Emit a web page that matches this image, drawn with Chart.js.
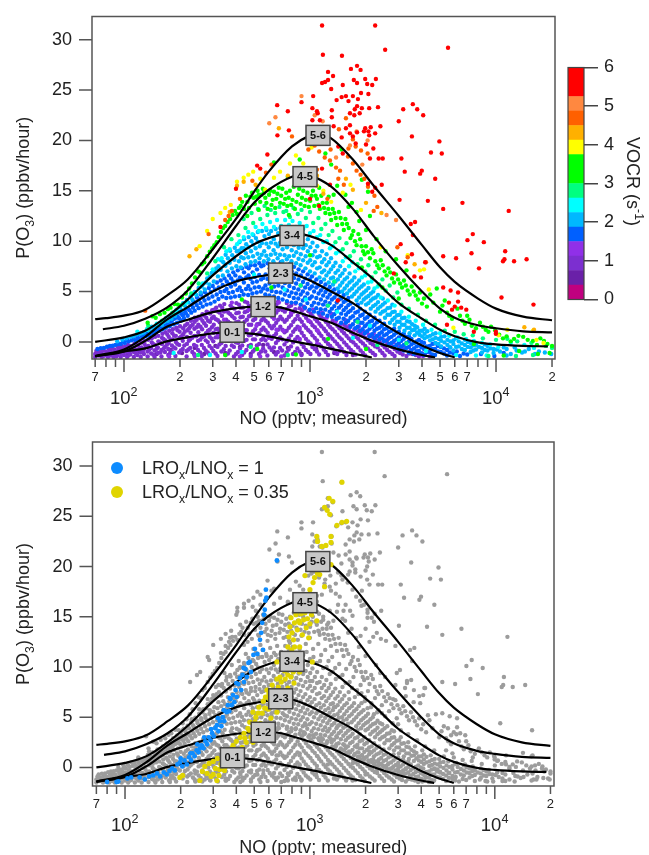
<!DOCTYPE html>
<html>
<head>
<meta charset="utf-8">
<title>P(O3) vs NO</title>
<script src="https://cdn.jsdelivr.net/npm/chart.js@4"></script>
<style>
html, body { margin: 0; background: #fff; overflow: hidden; }
canvas { position: absolute; }
</style>
</head>
<body>
<canvas id="topChart" width="649" height="430" style="left:0;top:0"></canvas>
<canvas id="barChart" width="89" height="270" style="left:560px;top:50px"></canvas>
<canvas id="bottomChart" width="649" height="429" style="left:0;top:430px"></canvas>
<script>
// measured points [NO pptv, P(O3) ppbv/hour], grouped by VOCR colour
const vocrDeep = [[74,-1.3],[88,-1.2],[105,-1.35],[122,-1],[150,-1.2],[178,-.8],[205,-1.1],[240,-.6],[270,-1.2],[310,-.4],[350,-1.1],[420,-.5],[480,-1.2],[560,-.3],[640,-1],[760,-.6],[900,-1.2],[1080,-.7],[1350,-1.1],[1700,-1.3]];
const vocrPurple = [[70,-1.5],[70,-1.2],[71,-.9],[73,-1.35],[74,-1],[76,-1.5],[76,-1.1],[77,-.8],[79,-1.3],[80,-.95],[82,-1.5],[82,-1.15],[83,-.7],[85,-1.35],[85,-.9],[86,-.6],[88,-1.5],[89,-1.1],[89,-.75],[92,-1.3],[92,-.95],[93,-.55],[96,-1.5],[96,-1.1],[97,-.7],[97,-.4],[100,-1.3],[100,-.85],[101,-.5],[104,-1.5],[104,-1.05],[105,-.65],[105,-.3],[108,-1.25],[109,-.85],[109,-.4],[113,-1.5],[113,-1],[114,-.6],[114,-.15],[118,-1.3],[118,-.8],[119,-.3],[123,-1.5],[123,-1.05],[124,-.55],[124,-.05],[128,-1.2],[128,-.7],[129,-.2],[129,.1],[134,-1.45],[134,-.95],[135,-.4],[135,.2],[140,-1.15],[140,-.6],[141,-.05],[141,.35],[146,-1.5],[146,-.85],[147,-.3],[147,.5],[152,-1.1],[152,-.55],[153,.05],[153,.6],[159,-1.45],[159,-.8],[160,-.2],[160,.4],[161,.8],[166,-1],[166,-.5],[167,.15],[167,.95],[173,-1.3],[173,-.7],[174,-.1],[174,.5],[175,1.1],[181,-.95],[181,-.35],[182,.25],[182,.85],[183,1.25],[189,-1.4],[189,-.65],[190,0],[190,.6],[191,1.4],[198,-1.05],[198,-.3],[199,.4],[199,1],[200,1.55],[207,-.7],[207,.1],[208,.75],[208,1.35],[217,-1.45],[217,-.9],[218,-.2],[218,.5],[219,1.15],[219,1.8],[227,-.6],[227,.25],[228,.9],[228,1.55],[229,2.1],[238,-1.2],[238,-.3],[239,.6],[239,1.3],[240,2],[240,2.4],[250,-.8],[250,.1],[251,.95],[251,1.7],[252,2.5],[262,-1.4],[262,-.3],[263,.45],[263,1.25],[264,2.1],[264,2.75],[275,-.85],[275,.15],[276,.85],[276,1.6],[277,2.4],[278,3],[288,-1.25],[288,-.4],[289,.5],[289,1.2],[290,2],[291,2.8],[302,-.9],[302,.05],[303,.9],[304,1.7],[304,2.5],[305,3.2],[318,-1.4],[318,-.5],[319,.45],[319,1.3],[320,2.15],[321,3],[334,-.95],[334,-.1],[335,.8],[336,1.7],[336,2.6],[337,3.4],[352,-1.3],[352,-.4],[353,.4],[354,1.25],[354,2.2],[355,3.1],[370,-.85],[371,.1],[372,.95],[372,1.85],[373,2.75],[374,3.6],[390,-1.45],[390,-.5],[391,.5],[392,1.5],[393,2.35],[393,3.3],[410,-1],[411,-.1],[412,1.05],[413,2],[414,2.9],[415,3.7],[432,-1.3],[432,-.35],[433,.6],[434,1.6],[435,2.5],[436,3.4],[455,-.8],[456,.2],[457,1.15],[458,2.2],[459,3.05],[460,3.9],[480,-1.4],[481,-.3],[482,.7],[483,1.7],[484,2.7],[485,3.55],[505,-.75],[506,.25],[507,1.25],[508,2.3],[509,3.25],[510,4],[532,-1.2],[533,-.2],[534,.85],[535,1.8],[536,2.8],[537,3.7],[560,-.65],[561,.4],[562,1.4],[563,2.35],[564,3.3],[590,-1.35],[591,-.25],[592,.9],[593,1.9],[594,2.9],[595,3.8],[622,-.8],[623,.3],[624,1.35],[625,2.5],[626,3.4],[655,-1.25],[656,-.1],[657,.8],[658,1.9],[659,2.9],[660,3.7],[690,-.6],[691,.45],[692,1.5],[693,2.5],[694,3.35],[728,-1.35],[729,-.25],[730,.95],[731,2],[732,3],[768,-.75],[769,.35],[770,1.4],[771,2.5],[772,3.5],[810,-1.2],[811,-.05],[812,1],[813,2],[814,3],[855,-.65],[856,.5],[857,1.5],[858,2.6],[900,-1.3],[901,-.2],[902,.9],[903,2],[904,3.1],[950,-.8],[951,.3],[952,1.4],[953,2.4],[1005,-1.2],[1006,-.15],[1007,.95],[1008,1.95],[1009,2.8],[1060,-.7],[1061,.4],[1062,1.45],[1063,2.3],[1120,-1.25],[1121,-.25],[1122,.85],[1123,1.8],[1124,2.7],[1185,-.75],[1186,.3],[1187,1.3],[1188,2.25],[1250,-1.3],[1251,-.2],[1252,.75],[1253,1.7],[1320,-.65],[1321,.3],[1322,1.25],[1323,2.1],[1400,-1.2],[1401,-.2],[1402,.7],[1403,1.6],[1480,-.7],[1481,.25],[1482,1.1],[1570,-1.3],[1571,-.3],[1572,.6],[1573,1.45],[1660,-.8],[1661,.1],[1662,.95],[1760,-1.25],[1761,-.3],[1762,.5],[1870,-.85],[1871,.05],[1872,.8],[1980,-1.35],[1981,-.4],[1982,.4],[2110,-.9],[2111,-.1],[2240,-1.3],[2241,-.45],[2242,.25],[2380,-.85],[2381,-.1],[2520,-1.35],[2521,-.55],[2680,-1],[2681,-.3],[2850,-1.4],[2851,-.7],[3050,-1.1],[3300,-1.4],[3550,-1.2],[3850,-1.45],[4150,-1.3]];
const vocrPurple2 = [[72,-1.15],[78,-1.38],[84,-1.02],[91,-1.42],[94,-.82],[99,-1.05],[102,-.62],[107,-1.1],[111,-.72],[116,-1.12],[121,-.62],[126,-.92],[131,-.45],[137,-.75],[144,-1.28],[143,-.18],[150,-.68],[156,-.05],[157,-1.05],[163,.28],[164,-.62],[170,-.28],[171,.72],[177,-1.1],[178,.22],[185,-.55],[186,.62],[193,-.18],[194,1.15],[202,-.85],[203,.55],[211,-.35],[212,1],[213,1.62],[222,-.75],[223,.1],[224,1.35],[233,-1],[233,.42],[234,1.7],[245,-.42],[245,.55],[246,1.45],[246,2.2],[257,-1.05],[257,.22],[258,1.5],[258,2.35],[269,-.6],[269,.55],[270,1.85],[270,2.62],[282,-1.05],[282,-.02],[283,1.1],[283,2.1],[284,2.9],[296,-.62],[296,.32],[297,1.45],[297,2.35],[298,3.15],[311,-1.15],[311,.45],[312,1.25],[312,2.25],[313,3.4],[326,-.25],[326,1],[327,1.95],[327,2.9],[328,3.6],[344,-.72],[344,.38],[345,1.45],[345,3],[346,3.75],[362,-1.15],[362,.15],[363,1.05],[363,2],[364,2.9],[380,-.35],[381,.65],[381,1.6],[382,2.55],[382,3.4],[400,-1.2],[400,-.05],[401,.95],[401,1.95],[402,2.85],[402,3.85],[421,-.65],[422,.42],[422,1.35],[423,2.45],[423,3.4],[443,-1.05],[444,.1],[445,1.15],[445,2],[446,2.95],[446,4],[468,-.4],[469,.65],[469,1.7],[470,2.55],[470,3.6],[493,-.95],[494,.25],[494,1.05],[495,2.15],[495,3],[496,3.95],[518,-.35],[519,.72],[520,1.75],[520,2.75],[521,3.65],[546,-.95],[547,.2],[548,1.2],[548,2.15],[549,3.05],[549,4.15],[575,-.95],[576,.15],[577,1.15],[577,2.1],[578,3.05],[578,4],[606,-.55],[607,.55],[607,1.6],[608,2.7],[608,3.6],[640,-.55],[640,.6],[641,1.6],[641,2.6],[642,3.3],[672,-1],[673,.15],[673,1.2],[674,2.2],[674,3.15],[674,4],[708,-.85],[709,.25],[710,1.2],[710,2.25],[711,3.15],[748,-1.05],[749,.05],[749,1.1],[750,2.2],[750,3.25],[750,3.85],[790,-.45],[790,.65],[791,1.65],[791,2.7],[792,3.6],[832,-1],[833,.25],[833,1.25],[834,2.25],[834,3.25],[878,-.95],[879,.2],[879,1.2],[880,2.25],[880,3.35],[925,-.5],[926,.6],[926,1.65],[927,2.7],[927,3.5],[978,-1],[979,.05],[980,1.15],[980,2.1],[981,3.05],[1030,-.5],[1031,.65],[1032,1.65],[1032,2.55],[1090,-.95],[1091,.15],[1091,1.15],[1092,2.05],[1150,-.45],[1151,.6],[1151,1.55],[1152,2.45],[1215,-1],[1216,.05],[1216,1.05],[1217,2.0],[1285,-.4],[1286,.55],[1286,1.45],[1360,-.95],[1361,.05],[1361,1],[1361,1.85],[1440,-.45],[1441,.45],[1441,1.35],[1525,-1],[1526,-.05],[1526,.85],[1527,1.7],[1615,-.55],[1616,.35],[1616,1.2],[1710,-1],[1711,-.05],[1711,.75],[1815,-.55],[1816,.3],[1816,1.05],[1925,-1.1],[1926,-.15],[1926,.6],[2045,-.65],[2046,.15],[2175,-1.1],[2176,-.25],[2176,.5],[2310,-.55],[2310,.1],[2450,-1.1],[2450,-.3],[2600,-.8],[2600,-.1],[2770,-1.2],[2770,-.5],[2950,-.95],[3150,-1.25],[3150,-.6],[3420,-1.15],[3700,-1.3],[4000,-1.15],[4500,-1.4]];
const vocrViolet = [[310,3.1],[345,2.2],[380,3.9],[425,.9],[470,3.2],[515,1.6],[550,3.9],[600,.4],[640,2.3],[680,3.9],[720,1.1],[790,2.9],[835,3.8],[880,1.4],[930,3.3],[985,2.1],[1040,3.2],[1100,1.1],[1160,2.9],[1230,2.4],[1300,2.8],[1380,2.1],[1450,1.7],[1540,2.2],[1630,1.6],[1730,1.2],[1830,1.5],[1950,1],[2070,.7],[2200,.8],[2340,.55],[2480,.2],[2640,.3],[2800,-.05],[3000,-.35],[3200,-.75],[3480,-.8],[3750,-.95],[4050,-1.4],[4400,-1.45],[1090,-.2],[1440,-.9],[880,.3],[660,1.2],[240,-1.4],[320,.7],[175,-1.45],[420,-1.45],[540,-1.45],[700,-1.45]];
const vocrBlue = [[72,-.7],[78,-.6],[84,-.4],[90,-.3],[96,-.2],[101,-.1],[106,.05],[110,.15],[116,.1],[120,.3],[126,.45],[131,.55],[137,.65],[143,.85],[149,1],[155,1.1],[161,1.25],[168,1.4],[170,1.75],[176,1.55],[178,2],[185,1.75],[186,2.3],[193,1.9],[194,2.55],[202,2.1],[203,2.8],[210,2.35],[212,3.05],[220,2.6],[221,3.3],[230,2.9],[231,3.65],[240,3.1],[242,3.9],[252,3.35],[253,4.2],[265,3.5],[266,4.4],[278,3.7],[279,4.7],[292,3.8],[293,4.95],[307,4],[308,5.2],[322,4.25],[323,5.4],[338,4.5],[339,5.65],[355,4.35],[356,5.25],[357,6],[375,4.4],[376,5.5],[377,6.3],[395,4.5],[396,5.7],[397,6.6],[418,4.55],[419,5.4],[420,6.4],[440,4.7],[441,5.9],[442,6.9],[465,4.65],[466,5.55],[467,6.6],[468,7.3],[490,4.8],[491,5.9],[492,6.9],[517,4.9],[518,6],[519,7.2],[545,5],[546,6.2],[547,7.5],[575,4.7],[576,5.6],[577,6.7],[605,4.6],[606,5.8],[607,7.3],[640,4.5],[641,5.5],[642,6.5],[643,7.7],[675,4.35],[676,5.6],[677,6.8],[712,4.2],[713,5.4],[714,6.5],[715,7.6],[752,4.05],[753,5.1],[754,6.2],[755,7.1],[795,3.9],[796,4.9],[797,6],[798,7],[840,3.9],[841,4.8],[842,5.8],[843,6.8],[890,3.7],[891,4.7],[892,5.6],[893,6.6],[940,3.4],[941,4.4],[942,5.4],[943,6.3],[995,3.2],[996,4.3],[997,5.3],[998,6.2],[1050,3],[1051,3.9],[1052,5],[1053,5.9],[1110,2.9],[1111,3.8],[1112,4.8],[1113,5.6],[1175,2.8],[1176,3.7],[1177,4.6],[1178,5.4],[1240,2.6],[1241,3.6],[1242,4.4],[1243,5.2],[1310,2.5],[1311,3.3],[1312,4.2],[1313,5],[1390,2.3],[1391,3.1],[1392,3.9],[1393,4.7],[1470,1.9],[1471,2.8],[1472,3.6],[1473,4.3],[1560,1.9],[1561,2.7],[1562,3.4],[1563,4.1],[1650,1.5],[1651,2.4],[1652,3.1],[1653,3.8],[1750,1.35],[1751,2.1],[1752,2.9],[1860,1.1],[1861,1.9],[1862,2.6],[1863,3.3],[1970,.85],[1971,1.55],[1972,2.3],[1973,3],[2090,.55],[2091,1.3],[2092,2],[2093,2.7],[2220,.4],[2221,1.1],[2222,1.7],[2223,2.4],[2360,.25],[2361,.8],[2362,1.4],[2363,2.1],[2500,.05],[2501,.65],[2502,1.25],[2503,1.8],[2660,-.2],[2661,.4],[2662,1],[2830,-.5],[2831,.1],[2832,.7],[2833,1.3],[3000,-.7],[3001,-.1],[3002,.45],[3003,1],[3190,-.85],[3191,-.3],[3192,.3],[3193,.8],[3400,-1.05],[3401,-.5],[3402,.05],[3403,.55],[3620,-1.2],[3621,-.65],[3622,-.1],[3850,-.9],[3851,-.35],[3852,.2],[4100,-1.3],[4101,-.7],[4102,-.1],[4400,-1],[4401,-.4],[4700,-1.3],[4701,-.7],[4702,-.15],[5050,-1],[5051,-.5],[5450,-1.35],[5451,-.8],[5900,-1.15],[6400,-1.4],[7000,-1.25],[9800,-1.4],[11000,-1.1],[8300,-1.2]];
const vocrBlue2 = [[75,-.62],[81,-.48],[87,-.38],[93,-.22],[99,.02],[104,.18],[113,.28],[118,.48],[124,.62],[129,.75],[134,.9],[140,1.02],[146,1.18],[152,1.32],[158,1.5],[164,1.6],[172,1.9],[181,2.12],[190,2.4],[198,2.35],[199,2.95],[207,2.65],[215,2.85],[216,3.35],[225,3.15],[235,3.4],[236,4],[246,3.65],[247,4.4],[258,3.85],[259,4.7],[271,4.1],[272,4.95],[285,4.3],[286,5.35],[299,4.5],[300,5.55],[315,4.7],[316,5.9],[330,4.95],[331,6.1],[347,5.05],[347,6.3],[365,4.85],[366,5.75],[367,6.6],[385,4.95],[386,6],[387,6.9],[407,5.15],[408,6.1],[409,7.1],[429,5.05],[430,6.25],[431,7.3],[453,5.25],[454,6.4],[455,7.45],[478,5.2],[479,6.25],[480,7.6],[504,5.4],[505,6.45],[506,7.6],[532,5.45],[533,6.65],[534,7.8],[560,5.3],[561,6.35],[562,7.6],[590,5.2],[591,6.25],[592,7.8],[622,5.05],[623,6.1],[624,7.1],[658,4.95],[659,6],[660,7.2],[694,4.9],[695,6.1],[696,7.9],[732,4.7],[733,5.85],[734,7.05],[774,4.55],[775,5.55],[776,6.65],[777,7.7],[818,4.35],[819,5.35],[820,6.35],[821,7.45],[865,4.3],[866,5.2],[867,6.2],[868,7.2],[915,4.1],[916,5],[917,5.95],[918,7],[968,3.85],[969,4.8],[970,5.75],[971,6.7],[1022,3.6],[1023,4.5],[1024,5.5],[1025,6.5],[1080,3.35],[1081,4.35],[1082,5.4],[1083,6.2],[1142,3.25],[1143,4.2],[1144,5.1],[1145,5.95],[1208,3.2],[1209,4],[1210,4.95],[1211,5.7],[1275,3],[1276,3.85],[1277,4.7],[1278,5.45],[1350,2.75],[1351,3.55],[1352,4.4],[1353,5.2],[1430,2.4],[1431,3.4],[1432,4.2],[1433,4.95],[1515,2.3],[1516,3.15],[1517,3.95],[1518,4.65],[1605,2.1],[1606,2.95],[1607,3.65],[1608,4.35],[1700,1.75],[1701,2.55],[1702,3.35],[1805,1.5],[1806,2.25],[1807,3],[1808,3.7],[1915,1.25],[1916,1.9],[1917,2.7],[2030,1.05],[2031,1.75],[2032,2.45],[2155,.75],[2156,1.5],[2157,2.1],[2290,.6],[2291,1.3],[2292,1.95],[2430,.35],[2431,.95],[2432,1.6],[2580,.15],[2581,.75],[2582,1.35],[2745,-.1],[2746,.5],[2747,1.1],[2915,-.3],[2916,.25],[2917,.9],[3095,-.45],[3096,.1],[3097,.7],[3295,-.6],[3296,-.1],[3297,.5],[3510,-.85],[3511,-.25],[3512,.3],[3735,-.95],[3736,-.45],[3737,.05],[3975,-1.15],[3976,-.55],[3977,0],[4250,-1],[4251,-.45],[4550,-1.25],[4551,-.7],[4552,-.2],[4870,-.95],[4871,-.4],[5250,-1.15],[5251,-.65],[5650,-1.05],[5651,-.55],[6150,-.95],[6700,-1.15]];
const vocrSky = [[92,.05],[103,.35],[112,.55],[122,.8],[128,.95],[138,1.05],[145,1.35],[152,1.6],[160,1.7],[165,2],[172,2.1],[180,2.3],[188,2.6],[195,2.9],[204,3.15],[212,3.6],[222,3.9],[233,4.2],[245,4.65],[258,4.9],[262,5.5],[272,5.2],[275,5.9],[288,5.7],[290,6.5],[304,6],[306,7],[320,6.5],[322,7.5],[340,6.6],[342,7.9],[360,7],[362,8.3],[380,7.3],[382,8.6],[402,7.5],[404,9],[425,7.4],[427,8.4],[429,9.3],[450,7.7],[452,8.8],[454,9.7],[480,7.9],[482,9],[484,10],[508,8],[510,9.3],[512,10.3],[535,8.3],[537,9.5],[565,8],[567,9],[569,10.5],[598,8.2],[600,9.4],[602,10.7],[635,8],[637,9.1],[639,10.2],[670,8.3],[672,9.5],[674,10.8],[710,8],[712,9.2],[714,10.5],[750,8.2],[752,9.4],[754,10.9],[795,8],[797,9.1],[799,10.4],[842,7.8],[844,8.9],[846,10.1],[890,7.6],[892,8.7],[894,9.9],[945,7.3],[947,8.5],[949,9.6],[1000,7],[1002,8.1],[1004,9.4],[1060,6.8],[1062,7.9],[1064,9],[1125,6.4],[1127,7.4],[1129,8.5],[1190,6.2],[1192,7.1],[1194,8.2],[1260,5.9],[1262,6.9],[1264,7.9],[1330,5.7],[1332,6.4],[1334,7.5],[1410,5.3],[1412,6.2],[1414,7.1],[1490,5],[1492,5.9],[1494,6.8],[1580,4.8],[1582,5.6],[1584,6.4],[1680,4.5],[1682,5.3],[1684,6.1],[1780,4.1],[1782,5],[1784,5.8],[1890,3.9],[1892,4.7],[1894,5.5],[2000,3.7],[2002,4.4],[2004,5.1],[2120,3.3],[2122,4.1],[2124,4.8],[2250,3],[2252,3.7],[2254,4.4],[2390,2.8],[2392,3.5],[2530,2.4],[2532,3.1],[2534,3.9],[2690,1.9],[2692,2.7],[2694,3.4],[2850,1.7],[2852,2.4],[2854,3],[3030,1.4],[3032,2],[3034,2.7],[3220,1.1],[3222,1.7],[3224,2.4],[3430,.85],[3432,1.4],[3434,2],[3650,.65],[3652,1.2],[3654,1.6],[3880,.7],[3882,1.1],[4130,.35],[4132,.8],[4134,1.3],[4420,.15],[4422,.6],[4730,-.1],[4732,.4],[4734,.85],[5070,-.45],[5072,.1],[5074,.5],[5480,-.3],[5482,.2],[5900,-.85],[5902,-.2],[5904,.15],[6300,-.45],[6302,.05],[6800,-.8],[6802,-.3],[6804,.2],[7300,-1],[7302,-.55],[7304,-.1],[7800,-.75],[7802,-.3],[8400,-1.05],[8402,-.6],[9000,-.85],[9002,-.4],[9700,-1.1],[9702,-.7],[10500,-.95],[11400,-1.35],[11402,-.7],[12600,-.55],[13800,-1.05],[15000,-.7],[17000,-.95],[19800,-1.2]];
const vocrSky2 = [[98,.22],[108,.5],[117,.72],[125,.88],[133,1.25],[141,1.5],[149,1.45],[156,1.85],[168,2.35],[176,2.55],[184,2.85],[192,3.2],[200,3.45],[208,3.85],[218,4.15],[228,4.5],[240,4.95],[252,5.35],[266,5.75],[280,6.3],[296,6.85],[313,7.3],[331,7.15],[333,8.1],[351,7.55],[352,8.65],[370,7.85],[372,9.05],[392,8.15],[394,9.35],[415,8],[416,9.05],[417,9.9],[440,8.3],[441,9.3],[442,10.2],[466,8.4],[467,9.4],[468,10.4],[494,8.5],[495,9.65],[496,10.6],[522,8.75],[523,9.95],[524,10.9],[550,8.65],[551,9.8],[552,11],[582,8.55],[583,9.75],[584,11.1],[616,8.65],[617,9.85],[618,11],[652,8.75],[653,9.75],[654,11.2],[690,8.65],[691,9.85],[692,11.3],[730,8.6],[731,9.75],[732,11.2],[772,8.5],[773,9.75],[774,11.25],[818,8.55],[819,9.6],[820,10.85],[868,8.25],[869,9.35],[870,10.55],[918,8.1],[919,9.3],[920,10.6],[972,7.85],[973,9],[974,10.2],[1030,7.6],[1031,8.6],[1032,9.85],[1092,7.3],[1093,8.4],[1094,9.5],[1158,6.9],[1159,7.9],[1160,9],[1225,6.6],[1226,7.6],[1227,8.7],[1295,6.3],[1296,7.2],[1297,8.3],[1370,6],[1371,6.85],[1372,7.85],[1450,5.6],[1451,6.55],[1452,7.5],[1535,5.3],[1536,6.2],[1537,7.15],[1630,5.1],[1631,5.9],[1632,6.8],[1730,4.75],[1731,5.6],[1732,6.4],[1835,4.4],[1836,5.3],[1837,6.1],[1945,4.2],[1946,4.9],[1947,5.7],[2060,3.85],[2061,4.55],[2062,5.35],[2185,3.55],[2186,4.3],[2187,5],[2320,3.3],[2321,3.95],[2322,4.65],[2460,3],[2461,3.7],[2462,4.3],[2610,2.7],[2611,3.35],[2770,2.2],[2771,2.95],[2772,3.7],[2940,2],[2941,2.65],[3125,1.7],[3126,2.35],[3325,1.4],[3326,2.05],[3540,1.15],[3541,1.75],[3765,.9],[3766,1.45],[4000,.55],[4001,1.1],[4270,.5],[4271,1.05],[4575,.25],[4576,.75],[4900,-.2],[4901,.3],[5280,-.05],[5281,.55],[5680,-.55],[5681,.05],[6100,-.5],[6101,.35],[6550,-.7],[6551,-.15],[7050,-.5],[7051,0],[7550,-.85],[7551,-.35],[8100,-.5],[8700,-.8],[8701,-.25],[9350,-.65],[10100,-.75],[11000,-.55],[12000,-1.2],[12900,-.85],[14300,-.95],[16200,-1.2],[18300,-1.05]];
const vocrCyan = [[118,1],[133,1.2],[150,1.8],[170,2.4],[190,3.1],[216,3.9],[238,4.8],[265,5.8],[300,7.2],[335,8.3],[370,9.2],[405,9.7],[440,10.4],[490,10.7],[530,11],[580,11.3],[640,11.4],[700,11.5],[770,11.6],[840,11.4],[920,11.2],[1000,10.8],[1090,10.4],[1180,9.9],[1280,9.3],[1380,8.8],[1500,8],[1620,7.5],[1750,7],[1900,6.4],[2050,5.9],[2220,5.3],[2400,4.4],[2620,4.1],[2850,3.6],[3100,3],[3400,2.5],[3700,2.1],[4050,1.7],[4500,1.2],[5000,.85],[5600,.6],[6200,.45],[6900,.3],[7600,.1],[8400,-.1],[9300,-.25],[10300,-.5],[12000,-.1],[14200,-.3],[16000,-.6],[950,4.2],[1400,3],[2100,1.6],[730,5.2],[500,6.7],[3000,.2],[1700,.4],[4200,-.9],[6100,-1.3],[7800,-1.35],[8900,-1.35],[430,-1],[290,-1.3],[185,-1.1],[320,8.2],[355,9],[420,10],[465,10.9],[510,11.4],[555,11.7],[610,11.9],[665,12.1],[735,12.1],[805,12],[880,11.8],[960,11.5],[1045,11],[1135,10.6],[1230,10],[1330,9.5],[1440,9],[1560,8.4],[1690,7.9],[1830,7.3],[1980,6.6],[2140,6],[2310,5.5]];
const vocrSpring = [[135,1.6],[160,2.1],[182,2.9],[205,3.7],[230,4.8],[252,5.8],[280,6.8],[310,8],[345,9.4],[378,10.2],[412,10.6],[450,11.3],[495,11.8],[540,12.2],[590,12.6],[650,12.8],[720,12.9],[780,12.4],[860,12.7],[950,12.3],[1040,11.8],[1150,11.2],[1260,10.6],[1370,9.9],[1500,9.2],[1640,8.5],[1800,7.7],[1980,7],[2150,6.4],[2350,5.7],[2550,5.1],[2800,4.4],[3100,3.7],[3400,3.3],[3800,2.7],[4200,2.1],[4700,1.7],[5300,1.1],[6000,1],[6700,.75],[7500,.65],[8500,.35],[10000,.2],[11500,.3],[13000,.05],[15500,-.1],[18500,-.4],[20000,-.6],[620,2.9],[1250,3.6],[2300,-.3],[360,.7],[250,-1.3],[480,-.5],[760,-1.3],[3300,-.15],[1800,2],[890,5.6],[1350,6],[9100,-1.4],[12800,-1.4],[15800,-1.3],[440,12.2],[485,12.8],[525,13.2],[570,13.5],[615,13.1],[685,13.4],[745,13],[815,13.3],[900,13.1],[1000,12.9],[1110,12.3],[1210,11.7],[1320,11],[1440,10.3],[1570,9.8],[1720,9],[1880,8.2],[2060,7.6],[2250,6.9],[2450,6.2],[2680,5.6],[2950,4.9]];
const vocrGreen = [[134,1.9],[148,2.4],[165,2.9],[178,3.4],[195,3.7],[215,4.8],[232,5.8],[250,7],[262,7.7],[280,8.5],[298,9.3],[315,9.9],[332,10.9],[350,11.5],[372,12.2],[395,13],[415,13.3],[432,13.9],[452,14.5],[470,13.3],[488,14.8],[505,13.7],[522,15],[540,13.9],[558,15.2],[575,14.3],[592,13.2],[612,15],[630,14.1],[650,13.3],[668,14.7],[690,13.8],[710,15.2],[735,14.2],[755,13.5],[780,15],[805,14.1],[830,13.2],[860,14.6],[890,13.7],[920,15],[950,14.1],[985,13.4],[1020,14.5],[1055,13.5],[1090,14.2],[1130,13.2],[1170,13.8],[1210,12.8],[1255,13.2],[1300,12.1],[1350,12.8],[1400,11.6],[1460,12.3],[1520,11.1],[1580,11.7],[1650,10.3],[1710,11],[1780,9.6],[1860,10.2],[1930,9],[2000,9.5],[2100,8.3],[2190,8.8],[2300,7.6],[2400,8.1],[2520,7],[2640,7.3],[2760,6.3],[2900,6.7],[3050,5.8],[3200,6.1],[3350,5.1],[3520,5.5],[3700,4.6],[3900,4.9],[4100,4.3],[4430,4.7],[4800,5.3],[5300,4.1],[5000,3],[5600,2.6],[6200,3.3],[6600,2.1],[7000,2.6],[7400,1.6],[8200,1.9],[8800,1.2],[9400,1.5],[10400,.7],[11400,.55],[12500,.3],[14000,.5],[15800,.1],[17300,.35],[18900,-.2],[20000,-.4],[19400,-1.1],[16800,-1.2],[13300,-.9],[11000,-1.35],[7600,-.2],[1900,7.4],[2450,5.4],[3000,4.3],[1050,16],[1210,18.7],[1300,17.6],[880,18.1],[1400,15.5],[1550,14.6],[1680,13.8],[1780,12.9],[2100,12.5],[2050,14.9],[1900,16.1],[1480,19.1],[640,17.8],[760,16.4],[520,-.7],[350,-1.3],[840,-1.25],[1250,.3],[2000,-.7],[620,5.4],[1000,8.6],[430,4.2]];
const vocrGreen2 = [[142,2.55],[156,2.75],[172,3.25],[187,3.75],[205,4.4],[224,5.3],[241,6.4],[256,6.9],[270,7.9],[289,8.95],[306,9.6],[323,10.4],[341,11.3],[361,11.9],[384,12.6],[405,12.7],[424,13.5],[442,13.2],[461,13.9],[478,14.4],[497,14.3],[514,14.4],[531,14.6],[549,14.6],[566,14.8],[583,13.8],[602,14.6],[621,13.6],[640,14.9],[659,14.2],[679,15.3],[700,14.5],[722,13.7],[745,14.8],[768,14.3],[792,13.6],[818,15.4],[845,13.9],[875,15.2],[905,14.3],[935,13.5],[968,14.8],[1002,14],[1037,15],[1072,14.5],[1110,13.6],[1150,14.5],[1190,13.3],[1232,13.8],[1278,12.7],[1325,13.2],[1375,12.3],[1430,12.9],[1490,11.7],[1550,12.2],[1615,11.3],[1680,10.6],[1745,10],[1820,10.7],[1895,9.5],[1965,8.7],[2050,8.9],[2145,9.2],[2245,8],[2350,7.3],[2460,7.6],[2580,6.6],[2700,6.9],[2830,5.9],[2975,6.2],[3125,5.4],[3275,5.6],[3435,4.7],[3610,5],[3800,4.2],[4000,3.8],[4250,3.5],[4600,3.9],[5150,3.6],[5450,2.9],[5800,2.3],[6400,2.6],[6800,1.8],[7200,2.2],[7800,1.35],[8500,1.5],[9100,1],[9900,1.15],[10900,.35],[12000,.05],[13200,.6],[14800,.2],[16600,-.3],[18100,.1],[1120,15.3],[1260,14.4],[1340,14.6],[1610,13.4],[1840,12],[2000,11.1],[2280,10.2],[2550,9],[2900,8.2],[3300,7.1],[530,13.1],[460,12.5],[770,12.6]];
const vocrYellow = [[255,9.5],[280,11],[300,12.2],[330,12.8],[350,13.3],[375,13.6],[405,15.9],[440,16.3],[466,16.6],[495,16.9],[540,16.2],[575,15.1],[640,16.3],[690,16.9],[780,17.7],[840,18.5],[920,17.7],[1020,19.3],[1090,15.5],[1180,15],[1300,13.9],[1500,14.8],[1650,15.6],[1880,13.1],[2400,9.4],[3350,8.6],[3900,7.1],[4350,5.2],[4100,7.2],[5900,1.4],[10300,.65],[15800,1.1],[16500,.2],[18000,-.1],[11500,1.2]];
const vocrAmber = [[225,8.5],[245,9.2],[370,12.9],[405,15.5],[440,15.9],[510,15.6],[680,21.2],[760,16.5],[1090,16.5],[1180,14.7],[1560,16.2],[1700,15.1],[2000,13.8],[2420,12.8],[3650,7.7],[14200,1.45],[16000,1.2]];
const vocrOrange = [[130,3.1],[285,10.7],[350,12.1],[365,12.5],[380,13],[420,14.2],[490,16],[580,16.8],[620,17.6],[800,20.4],[1000,20],[1060,19.5],[1120,18.9],[1200,18.3],[1280,18],[1380,17.3],[1450,17],[1600,18.4],[1700,17.7],[1780,17],[1870,16.6],[1960,16.2],[2050,15.4],[2220,14.5],[2300,13.4],[1520,15.6],[1420,16.2],[1150,20.2],[1290,19.1],[1610,19.2],[1700,20.1],[1760,19.4],[1880,19],[2040,18.7],[2200,13],[2950,9.4],[3350,8.4],[4200,7.9],[1240,14.2],[1090,17.1],[980,19.1],[1430,21.1],[1560,22.2]];
const vocrLight = [[652,22.3],[604,21.7],[900,24.4],[1060,22.5],[1170,21.9],[1780,20.9],[2040,20],[1380,18.3],[1910,17.6],[2580,12.6],[2900,12.1],[1640,19.5]];
const vocrRed = [[1161,31.4],[1173,28.5],[1250,26.8],[1161,25.7],[1205,25.8],[1250,26],[2240,31.4],[2535,29],[5520,29.2],[1485,28.4],[1790,27.4],[1660,27.1],[1870,27],[1330,26.4],[1720,26],[1790,25.7],[1980,26.1],[2260,26.1],[2030,25.6],[2160,25.5],[1500,25.5],[1300,25.1],[1880,24.7],[2060,24.6],[1480,24.3],[1560,24.4],[1700,24.4],[1390,24],[1610,23.9],[1810,24.1],[2320,23.3],[2080,23.2],[1900,23.2],[1790,23.4],[1740,23.1],[1310,23],[1640,22.7],[1850,22.7],[1730,22.5],[1310,22.3],[3170,23.1],[3570,23.6],[3770,23.1],[4060,22.5],[3000,21.9],[2390,21.4],[2120,21.3],[1980,21.2],[1950,20.9],[2060,20.9],[1640,21.5],[1560,21.2],[2240,20.7],[2080,20.5],[1790,20.8],[1640,20.7],[1700,20.4],[1480,20.3],[3530,20.4],[4960,19.9],[4470,18.8],[5110,18.7],[3100,18.2],[2340,18.2],[2460,18.2],[2100,18.2],[2000,19.6],[2190,19.2],[1760,19.7],[3230,16.9],[3990,17],[3910,16.7],[4710,16.2],[2430,15.6],[2050,15.7],[2160,14.9],[2240,15.3],[3030,14.1],[4300,14],[6600,13.8],[5200,13.2],[11700,13],[3480,11.7],[3670,11.9],[3570,10.6],[3070,9.7],[7500,10.7],[7020,10.1],[8600,9.9],[11200,9],[7380,8.8],[5200,8.5],[6100,8.3],[10900,8],[11100,8.2],[12500,8],[14600,8.2],[8100,7.3],[4160,7.9],[3270,7.9],[3530,8.7],[2820,6.8],[3950,6.4],[3640,6.5],[5200,5.4],[5700,5.1],[6250,4.9],[10700,4.4],[15900,3.7],[5580,3.9],[6250,4],[6000,3.5],[6500,3.4],[6920,3.2],[5800,3.2],[5450,1.7],[7600,1],[9980,1],[9980,.8],[1410,4.1],[666,23.5],[760,22.9],[668,20.5],[770,21],[900,23.8],[1040,24.4],[1030,23.2],[1090,22.9],[1100,22.7],[1030,22],[1130,22],[590,18.6],[520,17.5],[540,17.2],[1340,21.4],[1420,19.4],[1500,18.7],[1120,13.5],[1000,14.2],[400,15.2],[330,11.4],[1160,17.2],[1280,15.6]];

// LROx/LNOx subsets on the lower panel
const lroxOne = [[80,-1.45],[90,-1.45],[92,-1.4],[103,-1.1],[108,-1],[120,-1],[128,-1.2],[135,-.9],[142,-.8],[149,-.6],[155,-.9],[162,-.5],[168,-.7],[174,-.35],[180,-.1],[186,-.3],[192,.3],[198,.5],[204,.1],[210,.7],[216,.3],[222,1],[228,.7],[232,1.4],[238,1.1],[244,1.7],[250,1.5],[254,1.9],[260,2.2],[266,1.9],[272,2.6],[278,2.3],[284,3],[290,2.7],[296,3.4],[302,3.1],[308,3.9],[314,4.2],[320,3.6],[326,4.6],[332,4.1],[338,5],[344,4.6],[350,5.6],[355,5.5],[360,6.2],[366,5.6],[372,6.8],[378,6.2],[384,7.2],[390,6.5],[396,7.7],[402,7],[410,8.3],[418,8.9],[425,7.7],[432,9.2],[440,8.5],[448,9.8],[456,9],[465,10.4],[473,10.5],[480,9.5],[495,11.2],[504,11.8],[520,11.3],[537,12.7],[545,13.4],[558,11.7],[552,14.4],[565,15.2],[570,15.7],[574,16.6],[578,17.7],[582,16.9],[663,20.6],[200,.9],[226,1.4],[246,2.3],[268,3],[292,3.8],[318,4.9],[342,5.7],[368,6.9],[400,8.4],[438,9.9]];
const lroxPoint35 = [[198,-1],[205,-.8],[254,-1.3],[314,-1.3],[262,-.4],[270,.1],[278,-.6],[285,.4],[292,-.9],[300,.6],[308,-.1],[316,.9],[322,-.8],[330,.3],[338,1.1],[345,-.3],[352,.7],[360,1.5],[370,.2],[378,1.9],[384,2.2],[392,1],[400,2.6],[410,1.6],[420,3],[430,2],[440,3.4],[452,2.5],[462,3.9],[473,4.5],[480,3],[492,2.5],[492,5.5],[500,3.9],[510,5],[520,3.2],[530,6],[540,4.4],[552,5.4],[565,2.8],[560,6.6],[575,7],[586,7.7],[595,5.8],[605,6.8],[615,4.9],[625,8.2],[635,6.2],[645,7.4],[663,5.5],[663,8.8],[663,10.5],[675,8],[689,9],[700,6.5],[710,9.8],[722,7.6],[735,8.8],[748,10.4],[760,9.2],[772,11],[785,10],[798,11.7],[812,9.5],[826,12],[840,10.6],[880,9.5],[880,12],[900,11.1],[1030,10.5],[760,12],[770,13],[780,14],[790,14.9],[800,13.4],[815,12.7],[825,14.4],[840,15.2],[855,13.7],[870,14.6],[880,14.4],[895,15.3],[910,13.2],[925,14.7],[940,15.4],[955,13.9],[970,14.8],[985,12.9],[1000,14.3],[1020,15.2],[1090,14.6],[1040,18.4],[1200,18],[940,19.1],[1100,19.3],[1300,20.2],[1060,18.9],[1130,19.2],[1000,17.7],[1300,22.4],[1090,23],[1100,22.5],[1160,22],[1300,23],[1400,24.1],[1490,24.4],[1580,24.5],[1200,25.9],[1280,25.2],[1270,26.8],[1330,26.5],[1490,28.4],[1240,25.6],[1220,22.1],[445,2.9],[470,3.7],[505,4.5],[525,5.4],[548,3.7],[570,5.9],[600,7.3],[630,7.1],[655,6.4],[680,7],[700,8.5],[730,9.6],[760,7.9],[790,9],[820,8.4],[300,-.7],[325,-.2],[350,.1],[365,1],[395,1.8]];

const vocrBins = [0.375, 0.375, 0.375, 0.375, 0.375, 0.375, 0.375, 0.375, 0.75, 0.375, 0.375, 0.375, 0.375, 0.75];
const vocrBinColors = ['#c0007f', '#6a20a8', '#7c2fd0', '#9030e8', '#0060ff', '#00b8ff', '#00ffff', '#00ff80', '#00ff00', '#ffff00', '#ffb000', '#ff6000', '#ff8840', '#ff0000'];

// model curves, one per VOCR range
const curveNames = ['0-1', '1-2', '2-3', '3-4', '4-5', '5-6'];
const curve01 = [[70,-1.45],[100,-.95],[130,-.65],[170,.05],[220,.45],[300,.85],[380,.95],[500,.8],[700,.3],[1000,-.25],[1300,-.7],[1700,-1.15],[2150,-1.55]];
const curve12 = [[70,-1.4],[100,-.95],[130,.1],[170,1.5],[220,2.2],[300,2.95],[400,3.35],[500,3.5],[560,3.55],[700,3.4],[800,3.1],[1000,2.55],[1300,1.9],[1700,.9],[2200,.05],[3000,-.75],[4000,-1.3],[4700,-1.55]];
const curve23 = [[70,-1.4],[100,-.75],[130,.5],[170,2.2],[220,3.45],[300,5],[400,6],[500,6.4],[600,6.65],[700,6.85],[800,6.75],[1000,6.1],[1300,5],[1700,3.85],[2200,2.4],[3000,.85],[4000,-.35],[5000,-1.1],[6000,-1.55]];
const curve34 = [[70,0],[100,.45],[130,1.1],[170,2.5],[220,4.2],[300,6.6],[400,8.5],[500,9.7],[600,10.3],[800,10.8],[1000,10.5],[1300,9.6],[1700,7.9],[2200,6.2],[3000,3.85],[4000,2.3],[5000,1.2],[6000,.55],[8000,-.05],[10000,-.25],[14000,-.4],[19000,-.45]];
const curve45 = [[77,1.25],[100,1.6],[130,2.3],[170,3.4],[220,5.1],[300,8.3],[400,11.5],[500,13.8],[600,15.1],[800,16.4],[900,16.6],[1000,16.5],[1300,15.4],[1700,13.2],[2200,10.5],[3000,7.5],[4000,5],[5000,3.3],[6000,2.4],[8000,1.65],[10000,1.35],[14000,1.05],[20000,.95]];
const curve56 = [[70,2.25],[80,2.35],[100,2.6],[130,3.2],[170,4.6],[220,6.2],[300,9.2],[400,12.2],[500,14.9],[600,16.9],[800,19.4],[1000,20.5],[1100,20.7],[1300,20.2],[1700,18.1],[2200,15.5],[3000,12.5],[4000,9.6],[5000,7.4],[6000,5.95],[8000,4.3],[10000,3.3],[14000,2.5],[20000,2.15]];
const labelNO = [381, 559, 695, 800, 940, 1104];
const labelP = [0.96, 3.5, 6.83, 10.56, 16.4, 20.5];

const yTicks = [0, 5, 10, 15, 20, 25, 30];
const xTicks = [70, 80, 90, 100, 200, 300, 400, 500, 600, 700, 800, 900, 1000, 2000, 3000, 4000, 5000, 6000, 7000, 8000, 9000, 10000, 20000];
const xTickLabels = ['7', '', '', '', '2', '3', '4', '5', '6', '7', '', '', '', '2', '3', '4', '5', '6', '7', '', '', '', '2'];
const decades = [[100, '2'], [1000, '3'], [10000, '4']];

const FONT = '"Liberation Sans", Arial, sans-serif';
const INK = '#222';
const FRAME = '#555';

Chart.defaults.font.family = FONT;
Chart.defaults.animation = false;
Chart.defaults.responsive = false;
Chart.defaults.events = [];

function pts(list) {
    return list.map(p => ({ x: p[0], y: p[1] }));
}

function dots(list, color, order, radius) {
    return {
        type: 'scatter', data: pts(list), order: order, showLine: false,
        pointRadius: radius, pointBorderWidth: 0, pointBackgroundColor: color, backgroundColor: color
    };
}

function curveSets(order) {
    return [curve01, curve12, curve23, curve34, curve45, curve56].map((c, i) => ({
        type: 'line', label: curveNames[i], data: pts(c), order: order, pointRadius: 0,
        borderColor: '#000', borderWidth: 2.2, cubicInterpolationMode: 'monotone', fill: false
    }));
}

// text with sub/superscript pieces, x is the left edge
function richWidth(ctx, parts, size) {
    let w = 0;
    parts.forEach(p => {
        ctx.font = (p[1] ? size * 0.68 : size) + 'px ' + FONT;
        w += ctx.measureText(p[0]).width;
    });
    return w;
}

function drawRich(ctx, parts, x, y, size) {
    ctx.textAlign = 'left';
    ctx.textBaseline = 'alphabetic';
    ctx.fillStyle = INK;
    parts.forEach(p => {
        ctx.font = (p[1] ? size * 0.68 : size) + 'px ' + FONT;
        const dy = p[1] === 'sub' ? size * 0.28 : p[1] === 'sup' ? -size * 0.42 : 0;
        ctx.fillText(p[0], x, y + dy);
        x += ctx.measureText(p[0]).width;
    });
}

// frame, outward tick marks, decade labels, y title and range boxes
const panelPlugin = {
    id: 'panel',
    afterDatasetsDraw(chart, args, opts) {
        const ctx = chart.ctx, area = chart.chartArea, sx = chart.scales.x, sy = chart.scales.y;
        ctx.save();
        ctx.strokeStyle = FRAME;
        ctx.lineWidth = 1.5;
        ctx.strokeRect(area.left, area.top, area.right - area.left, area.bottom - area.top);
        ctx.beginPath();
        xTicks.forEach(v => {
            const x = sx.getPixelForValue(v);
            const len = decades.some(d => d[0] === v) ? 13 : 8;
            ctx.moveTo(x, area.bottom);
            ctx.lineTo(x, area.bottom + len);
        });
        yTicks.forEach(v => {
            const y = sy.getPixelForValue(v);
            ctx.moveTo(area.left, y);
            ctx.lineTo(area.left - 13, y);
        });
        ctx.stroke();

        decades.forEach(d => {
            const x = sx.getPixelForValue(d[0]);
            drawRich(ctx, [['10'], [d[1], 'sup']], x - 14, area.bottom + 45, 18.5);
        });

        ctx.save();
        ctx.translate(29, (area.top + area.bottom) / 2);
        ctx.rotate(-Math.PI / 2);
        const title = [['P(O'], ['3', 'sub'], [') (ppbv/hour)']];
        drawRich(ctx, title, -richWidth(ctx, title, 18) / 2, 0, 18);
        ctx.restore();

        curveNames.forEach((name, i) => {
            const x = sx.getPixelForValue(labelNO[i]), y = sy.getPixelForValue(labelP[i]);
            ctx.fillStyle = '#c8c8c8';
            ctx.strokeStyle = '#444';
            ctx.lineWidth = 1.5;
            ctx.fillRect(x - 12, y - 10, 24, 20);
            ctx.strokeRect(x - 12, y - 10, 24, 20);
            ctx.fillStyle = '#111';
            ctx.font = 'bold 11px ' + FONT;
            ctx.textAlign = 'center';
            ctx.textBaseline = 'middle';
            ctx.fillText(name, x, y + 0.5);
        });

        if (opts.legend) {
            opts.legend.forEach(item => {
                ctx.fillStyle = item.color;
                ctx.beginPath();
                ctx.arc(117, item.y, 6, 0, Math.PI * 2);
                ctx.fill();
                drawRich(ctx, item.text, 142, item.y + 6, 18);
            });
        }
        ctx.restore();
    }
};

function panelConfig(datasets, pad, axisHeight, xMin, xMax, yMin, yMax, legend) {
    return {
        data: { datasets: datasets },
        options: {
            layout: { padding: pad },
            plugins: { legend: { display: false }, tooltip: { enabled: false }, panel: { legend: legend } },
            scales: {
                x: {
                    type: 'logarithmic', min: xMin, max: xMax,
                    grid: { display: false },
                    border: { display: false },
                    afterBuildTicks: s => { s.ticks = xTicks.map(v => ({ value: v })); },
                    afterFit: s => { s.height = axisHeight; },
                    ticks: {
                        autoSkip: false, maxRotation: 0, padding: 3, color: INK,
                        font: { size: 13 },
                        callback: (v, i) => xTickLabels[i]
                    },
                    title: { display: true, text: 'NO (pptv; measured)', color: INK, font: { size: 18 }, padding: { top: 0, bottom: 0 } }
                },
                y: {
                    type: 'linear', min: yMin, max: yMax,
                    grid: { display: false },
                    border: { display: false },
                    // tick padding would otherwise push the plot top down
                    afterFit: s => { s.width = pad.yWidth; s.paddingTop = 0; s.paddingBottom = 0; },
                    ticks: { stepSize: 5, includeBounds: false, padding: 12, color: INK, font: { size: 18 } }
                }
            }
        },
        plugins: [panelPlugin]
    };
}

const vocrGroups = [
    [vocrDeep, '#6a20a8'], [vocrPurple, '#7c2fd0'], [vocrPurple2, '#7c2fd0'], [vocrViolet, '#9030e8'], [vocrBlue, '#0060ff'], [vocrBlue2, '#0060ff'],
    [vocrSky, '#00b8ff'], [vocrSky2, '#00b8ff'], [vocrCyan, '#00ffff'], [vocrSpring, '#00ff80'], [vocrGreen, '#00ff00'], [vocrGreen2, '#00ff00'],
    [vocrYellow, '#ffff00'], [vocrAmber, '#ffb000'], [vocrOrange, '#ff6000'], [vocrLight, '#ff8840'], [vocrRed, '#ff0000']
];

const topSets = vocrGroups.map((g, i) => dots(g[0], g[1], 100 - i, 2.2)).concat(curveSets(1));
new Chart(document.getElementById('topChart'), panelConfig(
    topSets, { left: 0, right: 94, top: 16.5, bottom: 0, yWidth: 92 }, 71, 67.3, 20750, -1.7, 32.3
));

const allPoints = vocrGroups.reduce((all, g) => all.concat(g[0]), []);
const bottomSets = [dots(allPoints, '#9c9c9c', 30, 2.2)].concat(curveSets(20), [
    dots(lroxPoint35, '#e0d400', 10, 2.6),
    dots(lroxOne, '#0d8cff', 5, 2.4)
]);
new Chart(document.getElementById('bottomChart'), panelConfig(
    bottomSets, { left: 0, right: 95, top: 12, bottom: 0, yWidth: 92.5 }, 73, 66.7, 20900, -1.85, 32.4,
    [
        { color: '#0d8cff', y: 38, text: [['LRO'], ['x', 'sub'], ['/LNO'], ['x', 'sub'], [' = 1']] },
        { color: '#e0d400', y: 62, text: [['LRO'], ['x', 'sub'], ['/LNO'], ['x', 'sub'], [' = 0.35']] }
    ]
));

// colour scale, bins stacked from 0 to 6
const barFrame = {
    id: 'barFrame',
    afterDraw(chart) {
        const ctx = chart.ctx, area = chart.chartArea;
        ctx.save();
        ctx.strokeStyle = '#444';
        ctx.lineWidth = 1.2;
        ctx.strokeRect(area.left, area.top, area.right - area.left, area.bottom - area.top);
        ctx.translate(67, (area.top + area.bottom) / 2 - 2);
        ctx.rotate(Math.PI / 2);
        const title = [['VOCR (s'], ['-1', 'sup'], [')']];
        drawRich(ctx, title, -richWidth(ctx, title, 18) / 2, 0, 18);
        ctx.restore();
    }
};
new Chart(document.getElementById('barChart'), {
    type: 'bar',
    data: {
        labels: ['VOCR'],
        datasets: vocrBins.map((h, i) => ({
            data: [h], backgroundColor: vocrBinColors[i], stack: 'scale',
            barPercentage: 1, categoryPercentage: 1, borderWidth: 0
        }))
    },
    options: {
        layout: { padding: { left: 8, right: 0, top: 17.5, bottom: 20.5 } },
        plugins: { legend: { display: false }, tooltip: { enabled: false } },
        scales: {
            x: { stacked: true, display: false },
            y: {
                position: 'right', stacked: true, min: 0, max: 6,
                grid: { display: true, drawOnChartArea: false, drawTicks: true, tickLength: 14, color: '#444', lineWidth: 1.5 },
                border: { display: false },
                afterFit: s => { s.width = 65; },
                ticks: { stepSize: 1, padding: 6, color: INK, font: { size: 18 } }
            }
        }
    },
    plugins: [barFrame]
});
</script>
</body>
</html>
